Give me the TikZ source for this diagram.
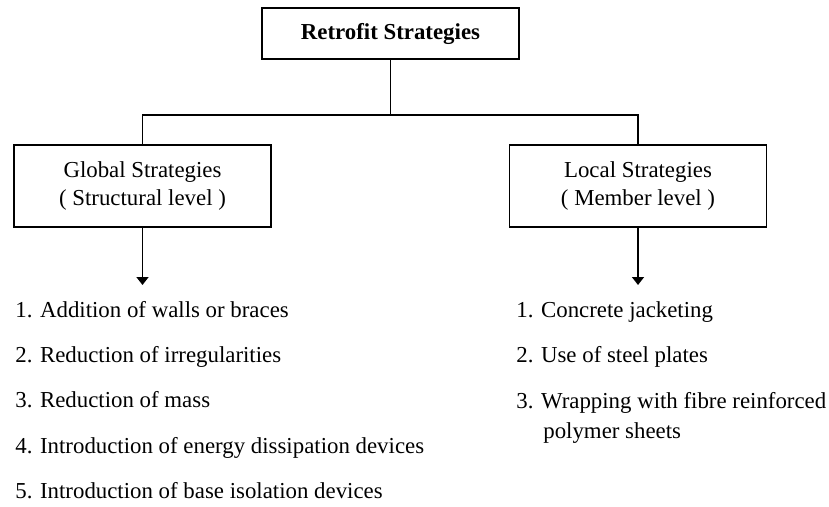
\documentclass[tikz,border=0pt]{standalone}
\usepackage{fontspec}
\setmainfont{Liberation Serif}
\usetikzlibrary{arrows.meta}

\tikzset{
    stratbox/.style={draw, line width=0.9pt, minimum width=5.14cm, inner sep=2pt,
        align=center, font=\fontsize{13pt}{16.5pt}\selectfont},
    item/.style={anchor=base west, inner sep=0pt, align=left,
        font=\fontsize{13pt}{17pt}\selectfont},
    link/.style={line width=0.9pt},
    downarrow/.style={line width=0.9pt, -{Triangle[width=2.4mm,length=1.6mm]}}
}

\begin{document}
\begin{tikzpicture}
        \useasboundingbox (0,0) rectangle (16.58,10.12);

        % Top level
        \node[stratbox, minimum height=1.02cm] (retrofit) at (7.81,9.45) {\textbf{Retrofit Strategies}};

        % Second level
        \node[stratbox, minimum height=1.64cm] (global) at (2.85,6.4) {Global Strategies\\( Structural level )};
        \node[stratbox, minimum height=1.64cm] (local) at (12.76,6.4) {Local Strategies\\( Member level )};

        % Branches
        \coordinate (split) at (7.81,7.82);
        \draw[link] (retrofit.south) -- (split);
        \draw[link] (global.north) |- (split) -| (local.north);

        % Arrows to the lists
        \coordinate (gtip) at (2.85,4.42);
        \coordinate (ltip) at (12.76,4.42);
        \draw[downarrow] (global.south) -- (gtip);
        \draw[downarrow] (local.south) -- (ltip);

        % Global measures
        \node[item] (g1) at (0.30,3.78) {1. Addition of walls or braces};
        \node[item] (g2) at (0.30,2.88) {2. Reduction of irregularities};
        \node[item] (g3) at (0.30,1.98) {3. Reduction of mass};
        \node[item] (g4) at (0.30,1.06) {4. Introduction of energy dissipation devices};
        \node[item] (g5) at (0.30,0.16) {5. Introduction of base isolation devices};

        % Local measures (base of a wrapped node is its last line)
        \node[item] (l1) at (10.32,3.78) {1. Concrete jacketing};
        \node[item] (l2) at (10.32,2.88) {2. Use of steel plates};
        \node[item] (l3) at (10.32,1.36) {3. Wrapping with fibre reinforced\\\hspace{0.54cm}polymer sheets};
\end{tikzpicture}
\end{document}
